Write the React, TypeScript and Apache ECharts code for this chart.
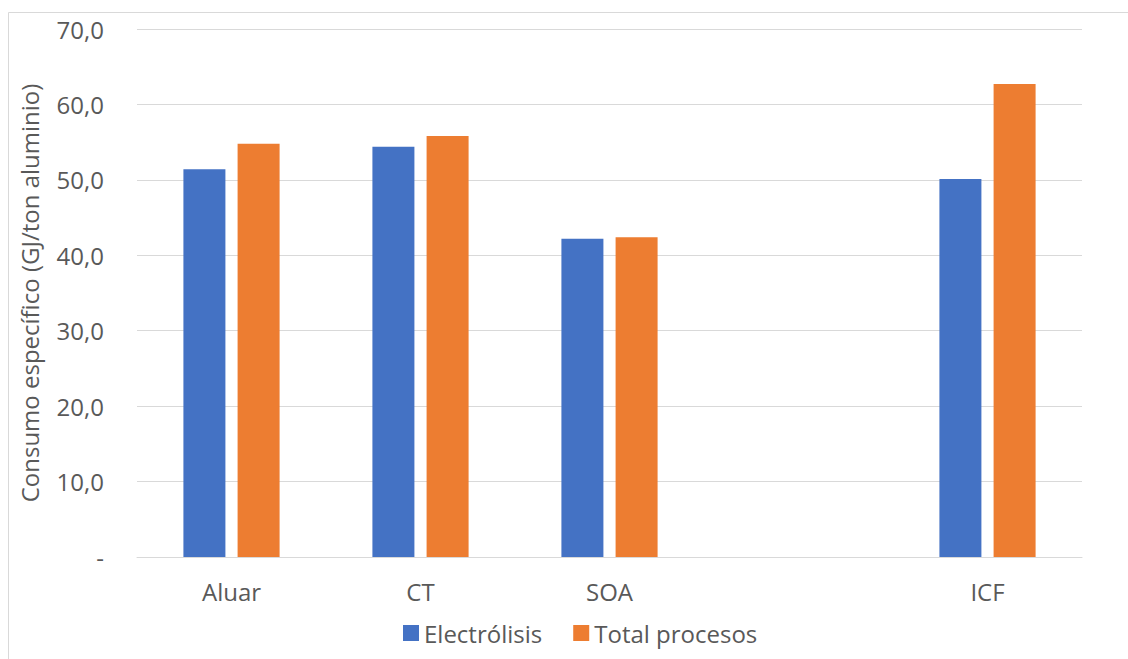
import React, { useEffect, useRef } from "react";
import * as echarts from "echarts";

const categories = ["Aluar", "CT", "SOA", "", "ICF"];
const electrolisis = [51.4, 54.4, 42.2, null, 50.1];
const totalProcesos = [54.8, 55.8, 42.4, null, 62.7];
const seriesNames = ["Electrólisis", "Total procesos"];
const yTitle = "Consumo específico (GJ/ton aluminio)";

const FONT = "'Open Sans', sans-serif";
const TXT = "#595959";
const FS = 24;

export default function App() {
  const ref = useRef<HTMLDivElement>(null);
  useEffect(() => {
    if (!ref.current) return;
    const chart = echarts.init(ref.current, null, { renderer: "svg" });
    chart.setOption({
      animation: false,
      backgroundColor: "#fff",
      textStyle: { fontFamily: FONT, color: TXT },
      graphic: [
        {
          type: "rect",
          shape: { x: 8.5, y: 12.5, width: 1300, height: 800 },
          style: { fill: "none", stroke: "#d9d9d9", lineWidth: 1 },
          silent: true,
        },
      ],
      grid: { left: 137, right: 46, top: 29, bottom: 102, containLabel: false },
      legend: {
        data: seriesNames,
        left: 398,
        top: 616,
        itemWidth: 16,
        itemHeight: 16,
        itemGap: 31,
        icon: "rect",
        textStyle: { fontFamily: FONT, fontSize: FS, color: TXT },
      },
      xAxis: {
        type: "category",
        data: categories,
        axisLine: { lineStyle: { color: "#d9d9d9", width: 1 } },
        axisTick: { show: false },
        axisLabel: { fontFamily: FONT, fontSize: FS, color: TXT, margin: 22 },
      },
      yAxis: {
        type: "value",
        min: 0,
        max: 70,
        interval: 10,
        name: yTitle,
        nameLocation: "middle",
        nameGap: 96,
        nameTextStyle: { fontFamily: FONT, fontSize: FS, color: TXT },
        axisLine: { show: false },
        axisTick: { show: false },
        splitLine: { lineStyle: { color: "#d9d9d9", width: 1 } },
        axisLabel: {
          fontFamily: FONT,
          fontSize: FS,
          color: TXT,
          margin: 33,
          formatter: (v: number) => (v === 0 ? "-" : v.toFixed(1).replace(".", ",")),
        },
      },
      series: [
        {
          name: seriesNames[0],
          type: "bar",
          data: electrolisis,
          barWidth: 42,
          barGap: "29%",
          itemStyle: { color: "#4472c4" },
        },
        {
          name: seriesNames[1],
          type: "bar",
          data: totalProcesos,
          barWidth: 42,
          itemStyle: { color: "#ed7d31" },
        },
      ],
    });
    return () => chart.dispose();
  }, []);
  return (
    <div
      ref={ref}
      style={{ position: "fixed", left: 0, top: 0, width: 1128, height: 659 }}
    />
  );
}
